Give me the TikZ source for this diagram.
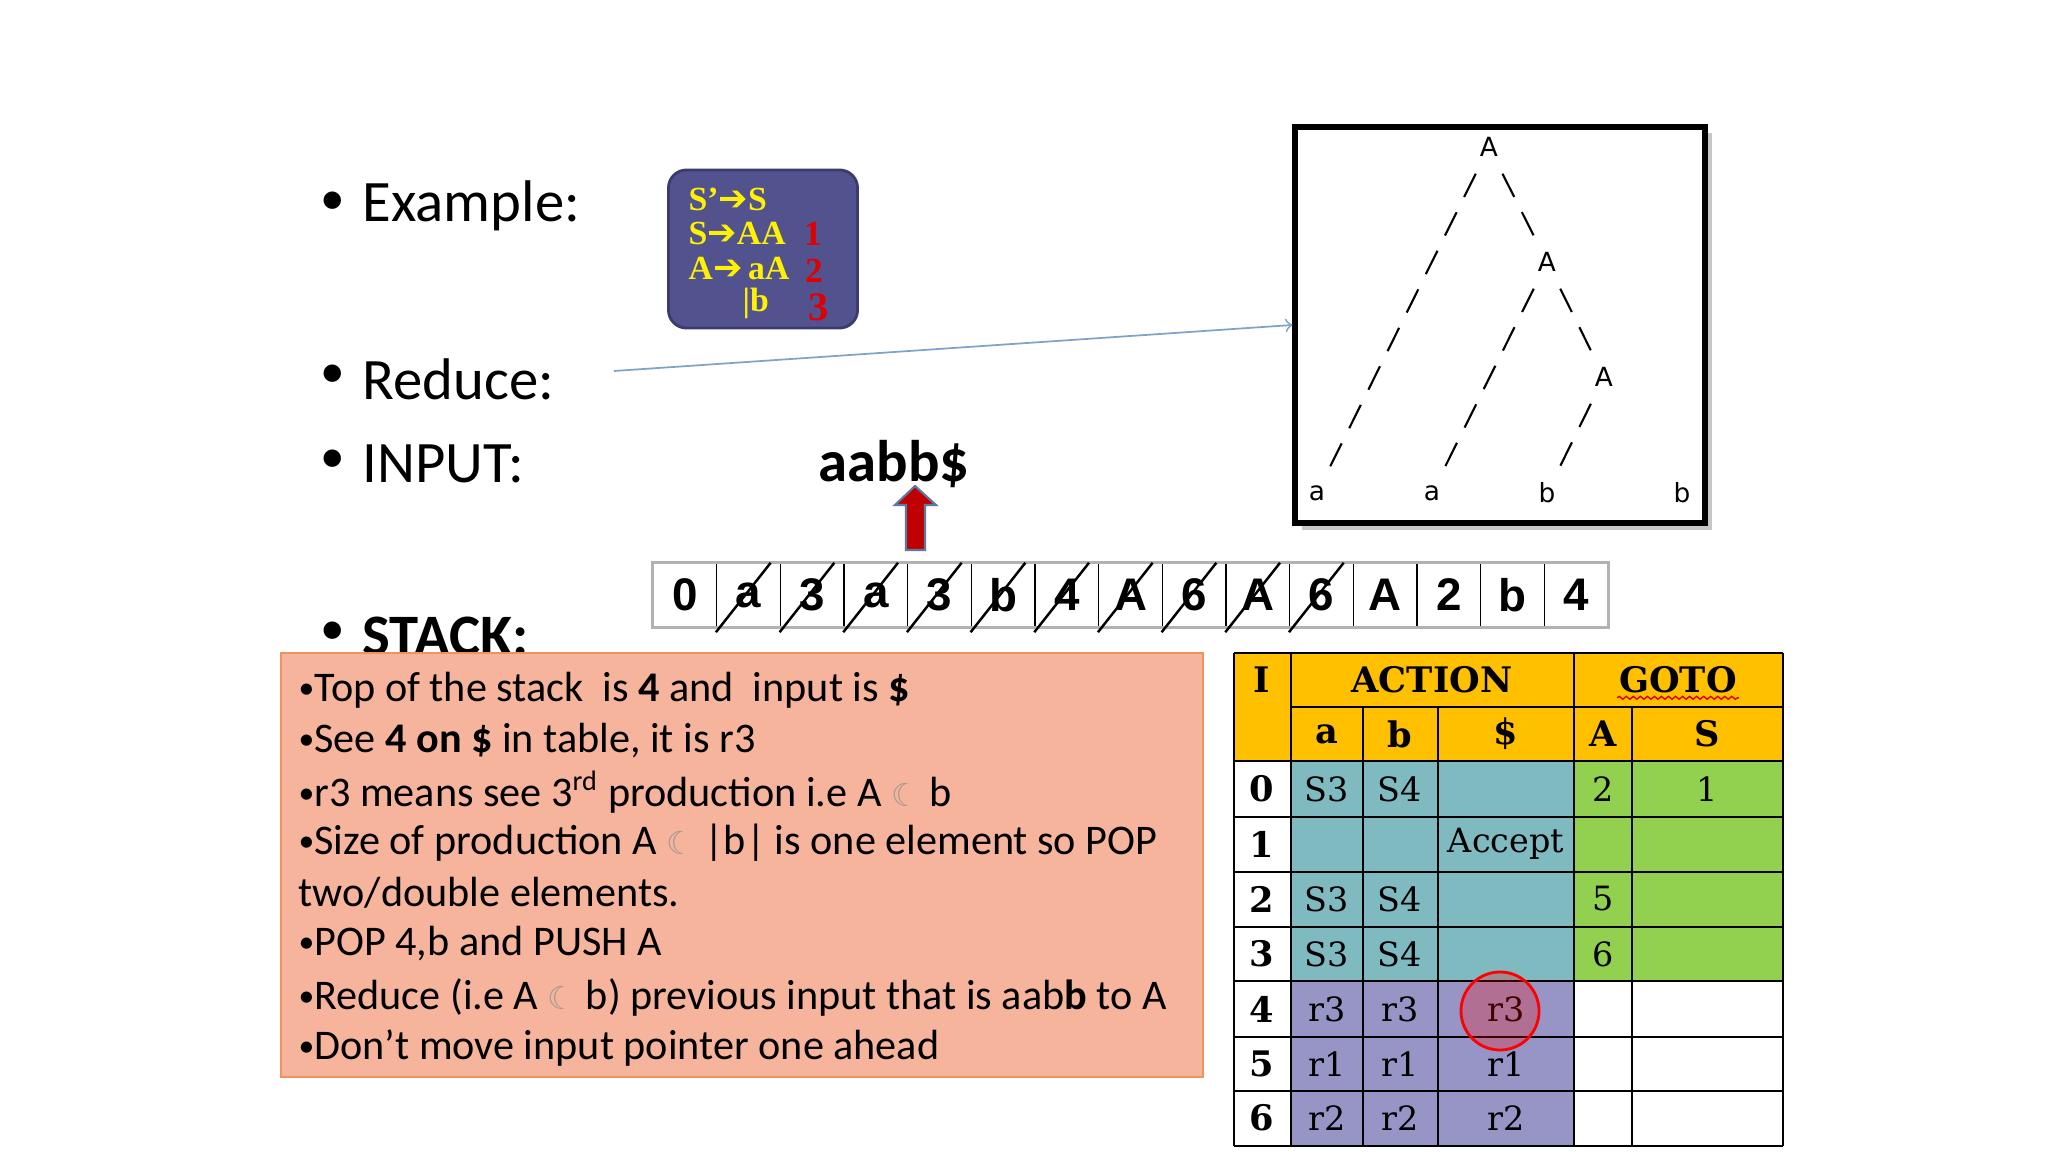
\documentclass[tikz,border=0pt]{standalone}
\usepackage{fontspec}
\setmainfont{Carlito}
\newfontfamily\gramfont{Liberation Serif}
\newfontfamily\symfont{DejaVu Sans}
\newfontfamily\tabfont{DejaVu Serif}
\newfontfamily\stackfont{Liberation Sans}
\usetikzlibrary{positioning,calc,decorations.pathmorphing}
\definecolor{gold}{HTML}{FFC000}
\definecolor{tealcell}{HTML}{80BAC1}
\definecolor{lavcell}{HTML}{9795C5}
\definecolor{greencell}{HTML}{92D050}
\definecolor{salmon}{HTML}{F5B49B}
\definecolor{salmonedge}{HTML}{EE925F}
\definecolor{gramfill}{HTML}{52528F}
\definecolor{gramedge}{HTML}{3B3B6E}
\definecolor{gramred}{HTML}{E00000}
\definecolor{linkblue}{HTML}{7FA3C9}
\definecolor{arrowred}{HTML}{C00000}
\definecolor{arrowedge}{HTML}{5A7AA0}
\definecolor{moongray}{HTML}{A89A92}
\newcommand{\moon}{{\symfont\color{moongray}\fontsize{9}{9}\selectfont ☾}}
\newcommand{\nb}{{\fontsize{9}{9}\selectfont\raisebox{0.2ex}{•}}}
\newcommand{\gto}{{\symfont\fontsize{10}{10}\selectfont ➔}}

\begin{document}
\begin{tikzpicture}[x=0.01cm, y=-0.01cm,
	bullet/.style={font=\fontsize{16.7}{20}\selectfont, anchor=west, inner sep=0pt},
	note/.style={font=\fontsize{12}{14}\selectfont, anchor=west, inner sep=0pt},
	gram/.style={font=\gramfont\bfseries\fontsize{9.6}{11}\selectfont, text=yellow, anchor=west, inner sep=0pt},
	num/.style={font=\gramfont\bfseries\fontsize{10}{11}\selectfont, text=gramred, inner sep=0pt},
	tnode/.style={font=\symfont\fontsize{7.5}{8}\selectfont, minimum width=5mm, minimum height=5.2mm, inner sep=0pt},
	branch/.style={line width=0.6pt, dash pattern=on 0.26cm off 0.17cm},
	cell/.style={draw=black, line width=0.4pt, minimum width=0.637cm, minimum height=0.63cm, inner sep=0pt, font=\stackfont\bfseries\fontsize{13}{13}\selectfont},
	grid/.style={line width=0.8pt},
	hd/.style={font=\tabfont\bfseries\fontsize{10}{12}\selectfont, inner sep=1pt},
	ent/.style={font=\tabfont\fontsize{9.5}{11}\selectfont, inner sep=1pt}]
	\fill[white] (0,0) rectangle (2048,1152);
	\useasboundingbox (0,0) rectangle (2048,1152);

	% bullets on the left
	\foreach \y/\t/\n in {206/Example:/ex, 379/Reduce:/red, 464/INPUT:/inp, 636/\textbf{STACK:}/stk} {
		\node[font=\fontsize{14}{14}\selectfont, inner sep=0pt] (dot-\n) at (333,\y-3) {•};
		\node[bullet] (lbl-\n) at (362,\y) {\t};
	}

	% grammar
	\node[draw=gramedge, fill=gramfill, line width=0.8pt, rounded corners=0.18cm, minimum width=1.89cm, minimum height=1.58cm] (gram) at (763,249) {};
	\node[gram] (g1) at (688,199) {S’\gto S};
	\node[gram] (g2) at (688,233) {S\gto AA};
	\node[gram] (g3) at (688,269) {A\gto\,aA};
	\node[gram] (g4) at (742,303) {|b};
	\node[num] (n1) at (813,234) {1};
	\node[num] (n2) at (814,271) {2};
	\node[num, font=\gramfont\bfseries\fontsize{11.5}{12}\selectfont] (n3) at (819,307) {3};

	% parse tree
	\fill[black!22] (1302,133) rectangle (1712,530);
	\node[draw, fill=white, line width=1.7pt, minimum width=4.09cm, minimum height=3.96cm] (treebox) at (1500,325) {};
	\node[tnode] (A1) at (1489,147) {A};
	\node[tnode] (A2) at (1547,262) {A};
	\node[tnode] (A3) at (1604,377) {A};
	\node[tnode] (l1) at (1317,493) {a};
	\node[tnode] (l2) at (1432,493) {a};
	\node[tnode] (l3) at (1547,493) {b};
	\node[tnode] (l4) at (1682,493) {b};
	\draw[branch] (A1) -- (l1);
	\draw[branch] (A1) -- (A2);
	\draw[branch] (A2) -- (l2);
	\draw[branch] (A2) -- (A3);
	\draw[branch] (A3) -- (l3);

	\coordinate (redtail) at (614,371);
	\draw[linkblue, line width=0.5pt, ->] (redtail) -- (treebox.west);

	% input and pointer
	\node[font=\fontsize{16.7}{20}\selectfont\bfseries, inner sep=0pt] (word) at (894,464) {aabb\$};
	\draw[draw=arrowedge, fill=arrowred, line width=0.6pt] (906,550) -- (906,505) -- (895,505) -- (915,486) -- (936,505) -- (925,505) -- (925,550) -- cycle;

	% stack
	\foreach \s [count=\i] in {0,a,3,a,3,b,4,A,6,A,6,A,2,b,4}
		\node[cell] (s\i) at ({653+(\i-0.5)*63.67},595) {\s};
	\draw[black!30, line width=0.8pt] (s1.north west) rectangle (s15.south east);
	\foreach \i in {2,...,11}
		\draw[line width=0.7pt] ($(s\i.south west)+(0,5)$) -- ($(s\i.north west)!0.84!(s\i.north east)$);

	% explanation
	\node[draw=salmonedge, fill=salmon, line width=0.6pt, minimum width=9.22cm, minimum height=4.24cm, inner sep=0pt] (notes) at (742,865) {};
	\node[note] (t1) at (298,690) {\nb Top of the stack~ is \textbf{4} and~ input is \textbf{\$}};
	\node[note] (t2) at (298,741) {\nb See \textbf{4 on \$} in table, it is r3};
	\node[note] (t3) at (298,792) {\nb r3 means see 3\textsuperscript{rd} production i.e A \moon{} b};
	\node[note] (t4) at (298,843) {\nb Size of production A \moon{} |b| is one element so POP};
	\node[note] (t5) at (298,893) {two/double elements.};
	\node[note] (t6) at (298,944) {\nb POP 4,b and PUSH A};
	\node[note] (t7) at (298,997) {\nb Reduce (i.e A \moon{} b) previous input that is aab\textbf{b} to A};
	\node[note] (t8) at (298,1048) {\nb Don’t move input pointer one ahead};

	% parsing table
	\fill[gold] (1234,653) rectangle (1783,761);
	\fill[tealcell] (1291,761) rectangle (1574,981);
	\fill[lavcell] (1291,981) rectangle (1574,1146);
	\fill[greencell] (1574,761) rectangle (1783,981);
	\foreach \y in {653,761,817,872,927,981,1037,1091,1146}
		\draw[grid] (1234,\y) -- (1783,\y);
	\draw[grid] (1291,707) -- (1783,707);
	\foreach \x in {1234,1291,1574,1783}
		\draw[grid] (\x,653) -- (\x,1146);
	\foreach \x in {1363,1438,1632}
		\draw[grid] (\x,707) -- (\x,1146);

	\node[hd] (hI) at (1262,680) {I};
	\node[hd] (hact) at (1432,680) {ACTION};
	\node[hd] (hgoto) at (1678,680) {GOTO};
	\draw[gramred, line width=0.4pt, decorate, decoration={snake, amplitude=0.4pt, segment length=2pt}] ($(hgoto.base west)+(2,5)$) -- ($(hgoto.base east)+(-2,5)$);
	\foreach \x/\t/\n in {1327/a/a, 1400/b/b, 1506/\$/d, 1603/A/A, 1707/S/S}
		\node[hd] (h\n) at (\x,734) {\t};

	\foreach \r/\y/\ca/\cb/\cc/\cd/\ce in {0/789/S3/S4//2/1, 1/844//{}/Accept//, 2/899/S3/S4//5/, 3/954/S3/S4//6/, 4/1009/r3/r3/r3//, 5/1064/r1/r1/r1//, 6/1118/r2/r2/r2//} {
		\node[hd] (i\r) at (1262,\y) {\r};
		\node[ent] (t\r a) at (1327,\y) {\ca};
		\node[ent] (t\r b) at (1400,\y) {\cb};
		\node[ent] (t\r d) at (1506,\y) {\cc};
		\node[ent] (t\r A) at (1603,\y) {\cd};
		\node[ent] (t\r S) at (1707,\y) {\ce};
	}
	\node[circle, draw=red, fill=red, fill opacity=0.25, draw opacity=1, line width=0.8pt, minimum size=0.78cm] (pick) at ($(t4d)+(-6,2)$) {};
\end{tikzpicture}
\end{document}
